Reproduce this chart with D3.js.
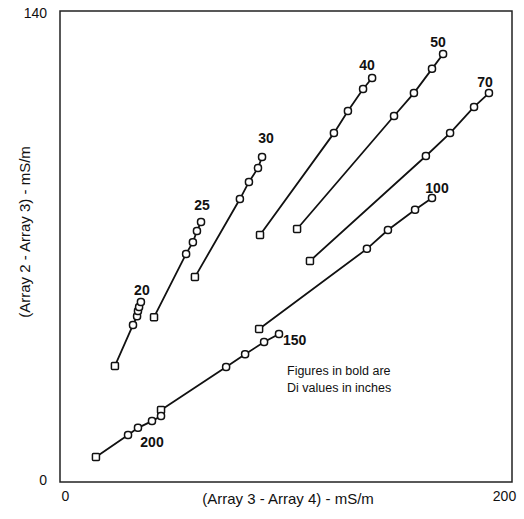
<!DOCTYPE html>
<html>
<head>
<meta charset="utf-8">
<script src="https://cdn.jsdelivr.net/npm/d3@7"></script>
<style>
  body { margin: 0; background: #fff; }
  text { font-family: "Liberation Sans", Arial, sans-serif; fill: #111; }
</style>
</head>
<body>
<script>
// Di (inches) for each curve
var diLabels = ["20", "25", "30", "40", "50", "70", "100", "150", "200"];

// (Array 3 - Array 4) values, one array per curve
var x20  = [24.3, 32.3, 34.1, 34.5, 35.0, 35.8];
var x25  = [41.6, 55.8, 58.8, 60.6, 62.4];
var x30  = [59.7, 79.6, 83.6, 87.6, 89.4];
var x40  = [88.5, 121.2, 127.4, 134.1, 138.1];
var x50  = [104.9, 147.8, 156.6, 164.6, 169.5];
var x70  = [110.6, 161.9, 172.6, 183.2, 189.8];
var x100 = [88.1, 135.8, 145.1, 157.1, 164.6];
var x150 = [44.7, 73.5, 81.9, 90.3, 96.9];
var x200 = [15.9, 30.1, 34.5, 40.7, 44.7];

// (Array 2 - Array 3) values
var y20  = [34.5, 46.7, 49.3, 50.8, 52.0, 53.5];
var y25  = [49.0, 67.8, 71.3, 74.6, 77.3];
var y30  = [60.9, 84.1, 89.2, 93.3, 96.6];
var y40  = [73.4, 103.7, 110.3, 116.8, 120.1];
var y50  = [75.2, 108.8, 115.6, 122.8, 127.2];
var y70  = [65.7, 96.9, 103.7, 111.5, 115.6];
var y100 = [45.5, 69.3, 74.9, 80.9, 84.4];
var y150 = [21.4, 34.2, 38.0, 41.6, 44.0];
var y200 = [7.4, 14.0, 16.1, 18.1, 19.6];

var xTicks = [0, 200];
var yTicks = [0, 140];

var xs = [x20, x25, x30, x40, x50, x70, x100, x150, x200];
var ys = [y20, y25, y30, y40, y50, y70, y100, y150, y200];

var series = diLabels.map(function(lab, i) {
  return {
    label: lab,
    points: xs[i].map(function(v, j) { return { x: v, y: ys[i][j] }; })
  };
});

// where each bold label sits relative to the curve's last point (pixels)
var labelOffset = {
  "20": [1, -7], "25": [1, -12], "30": [4, -14], "40": [-5, -8],
  "50": [-5, -7], "70": [-4, -6], "100": [5, -5], "150": [4, 11], "200": [-9, 31]
};

var width = 524, height = 519;
var plotLeft = 60, plotRight = 512, plotTop = 11, plotBottom = 482;

var svg = d3.select("body").append("svg")
  .attr("width", width)
  .attr("height", height);

var x = d3.scaleLinear().domain([0, 200]).range([plotLeft, plotRight]);
var y = d3.scaleLinear().domain([0, 140]).range([plotBottom, plotTop]);

// frame
svg.append("rect")
  .attr("x", plotLeft).attr("y", plotTop)
  .attr("width", plotRight - plotLeft).attr("height", plotBottom - plotTop)
  .attr("fill", "none").attr("stroke", "#222").attr("stroke-width", 1.5);

// axes (labels only)
var xAxis = svg.append("g")
  .attr("transform", "translate(0," + plotBottom + ")")
  .call(d3.axisBottom(x).tickValues(xTicks).tickSize(0).tickPadding(9).tickFormat(d3.format("d")));
xAxis.select(".domain").remove();
xAxis.selectAll("text")
  .style("font-size", "14px")
  .attr("dx", function(d) { return d === 0 ? 5 : -8; });

var yAxis = svg.append("g")
  .attr("transform", "translate(" + plotLeft + ",0)")
  .call(d3.axisLeft(y).tickValues(yTicks).tickSize(0).tickPadding(13).tickFormat(d3.format("d")));
yAxis.select(".domain").remove();
yAxis.selectAll("text")
  .style("font-size", "14px")
  .attr("dy", function(d) { return d === 0 ? "0.2em" : "0.45em"; });

// axis titles
svg.append("text")
  .attr("x", 288).attr("y", 504)
  .attr("text-anchor", "middle")
  .style("font-size", "15px")
  .text("(Array 3 - Array 4) - mS/m");

svg.append("text")
  .attr("transform", "translate(30,232) rotate(-90)")
  .attr("text-anchor", "middle")
  .style("font-size", "15px")
  .text("(Array 2 - Array 3) - mS/m");

// curves
var line = d3.line()
  .x(function(d) { return x(d.x); })
  .y(function(d) { return y(d.y); });

var g = svg.append("g");

g.selectAll(".curve")
  .data(series)
  .enter().append("path")
    .attr("class", "curve")
    .attr("d", function(d) { return line(d.points); })
    .attr("fill", "none")
    .attr("stroke", "#111")
    .attr("stroke-width", 1.8);

series.forEach(function(s) {
  g.selectAll(null)
    .data(s.points)
    .enter().append("rect")
      .attr("x", function(d) { return x(d.x) - 3.5; })
      .attr("y", function(d) { return y(d.y) - 3.5; })
      .attr("width", 7).attr("height", 7)
      .attr("rx", function(d, i) { return i === 0 ? 1 : 3; })
      .attr("fill", "#fff")
      .attr("stroke", "#111")
      .attr("stroke-width", 1.5);
});

// bold Di labels
g.selectAll(".di")
  .data(series)
  .enter().append("text")
    .attr("class", "di")
    .attr("x", function(d) { return x(d.points[d.points.length - 1].x) + labelOffset[d.label][0]; })
    .attr("y", function(d) { return y(d.points[d.points.length - 1].y) + labelOffset[d.label][1]; })
    .attr("text-anchor", function(d) { return d.label === "150" ? "start" : "middle"; })
    .style("font-size", "14px")
    .style("font-weight", "bold")
    .text(function(d) { return d.label; });

// note
var note = svg.append("text")
  .attr("x", 287).attr("y", 375)
  .style("font-size", "12.5px");
note.append("tspan").attr("x", 287).text("Figures in bold are");
note.append("tspan").attr("x", 287).attr("dy", 17).text("Di values in inches");
</script>
</body>
</html>
